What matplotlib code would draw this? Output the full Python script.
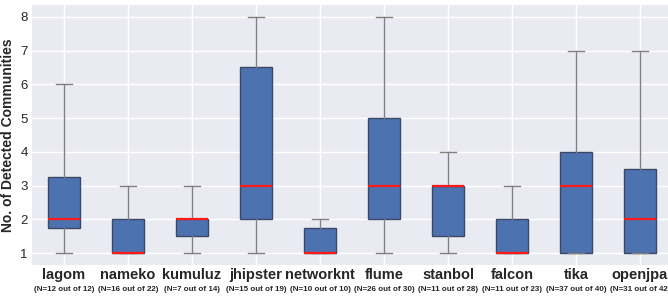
import matplotlib
matplotlib.use("Agg")
import matplotlib.pyplot as plt

projects = ["lagom", "nameko", "kumuluz", "jhipster", "networknt",
            "flume", "stanbol", "falcon", "tika", "openjpa"]
n_labels = ["(N=12 out of 12)", "(N=16 out of 22)", "(N=7 out of 14)",
            "(N=15 out of 19)", "(N=10 out of 10)", "(N=26 out of 30)",
            "(N=11 out of 28)", "(N=11 out of 23)", "(N=37 out of 40)",
            "(N=31 out of 42)"]
whislo = [1, 1, 1, 1, 1, 1, 1, 1, 1, 1]
q1 = [1.75, 1, 1.5, 2, 1, 2, 1.5, 1, 1, 1]
med = [2, 1, 2, 3, 1, 3, 3, 1, 3, 2]
q3 = [3.25, 2, 2, 6.5, 1.75, 5, 3, 2, 4, 3.5]
whishi = [6, 3, 3, 8, 2, 8, 4, 3, 7, 7]

fig = plt.figure(figsize=(6.68, 2.96), dpi=100)
ax = fig.add_axes([32/668, 1 - 265/296, 640/668, 260/296])
ax.set_facecolor("#eaeaf2")
for s in ax.spines.values():
    s.set_visible(False)
ax.grid(True, color="white", linewidth=1.0)
ax.set_axisbelow(True)

stats = []
for i in range(len(projects)):
    stats.append(dict(med=med[i], q1=q1[i], q3=q3[i],
                      whislo=whislo[i], whishi=whishi[i], fliers=[],
                      label=projects[i]))
ax.bxp(stats, positions=range(1, len(projects) + 1), widths=0.5,
       patch_artist=True, showfliers=False,
       boxprops=dict(facecolor="#4c72b0", edgecolor="#3a4a66", linewidth=1.0),
       whiskerprops=dict(color="#808080", linewidth=1.0),
       capprops=dict(color="#808080", linewidth=1.0),
       medianprops=dict(color="#ff1a1a", linewidth=1.6))

ax.set_xlim(0.5, len(projects) + 0.5)
ax.set_ylim(0.65, 8.35)
ax.set_yticks(range(1, 9))
ax.tick_params(axis="both", length=0, pad=3)
for t in ax.get_yticklabels():
    t.set_fontsize(9.5)
    t.set_fontfamily("Liberation Sans")
    t.set_color("#262626")
ax.set_xticks(range(1, len(projects) + 1))
ax.set_xticklabels([])
for i, (p, n) in enumerate(zip(projects, n_labels)):
    ax.annotate(p, xy=(i + 1, 0), xycoords=("data", "axes fraction"),
                xytext=(0, -2.5), textcoords="offset points",
                ha="center", va="top", fontsize=10.5, fontweight="bold",
                family="Liberation Sans", color="#262626")
    ax.annotate(n, xy=(i + 1, 0), xycoords=("data", "axes fraction"),
                xytext=(0, -15), textcoords="offset points",
                ha="center", va="top", fontsize=5.8, fontweight="bold",
                family="Liberation Sans", color="#262626")
ax.set_ylabel("No. of Detected Communities", fontsize=10, fontweight="bold",
              family="Liberation Sans", color="#262626", labelpad=4)

fig.savefig("out.png", dpi=100)
